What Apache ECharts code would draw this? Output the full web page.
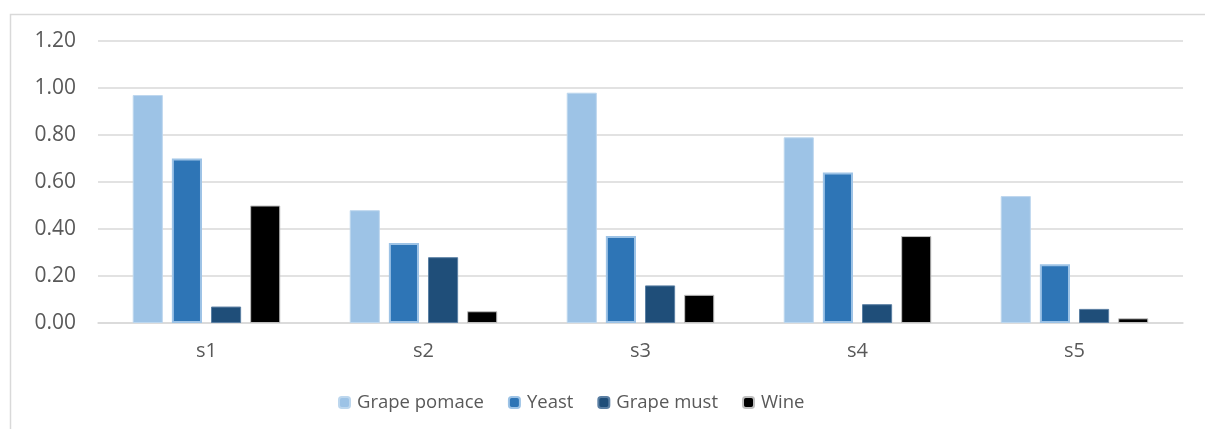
<!DOCTYPE html>
<html>
<head>
<meta charset="utf-8">
<script src="https://cdn.jsdelivr.net/npm/echarts@6/dist/echarts.min.js"></script>
<style>
html,body{margin:0;padding:0;background:#fff;}
#chart{width:1205px;height:429px;}
</style>
</head>
<body>
<div id="chart"></div>
<script>
const categories = ['s1','s2','s3','s4','s5'];
const grapePomace = [0.97, 0.48, 0.98, 0.79, 0.54];
const yeast = [0.70, 0.34, 0.37, 0.64, 0.25];
const grapeMust = [0.07, 0.28, 0.16, 0.08, 0.06];
const wine = [0.50, 0.05, 0.12, 0.37, 0.02];
const yTicks = { min: 0, max: 1.2, interval: 0.2 };

const chart = echarts.init(document.getElementById('chart'));
const font = '"Open Sans", "Noto Sans", sans-serif';
chart.setOption({
  animation: false,
  backgroundColor: '#ffffff',
  graphic: [{
    type: 'rect',
    shape: { x: 10.5, y: 14.5, width: 1220, height: 440 },
    style: { fill: 'none', stroke: '#d9d9d9', lineWidth: 1.5 },
    silent: true
  }],
  grid: { left: 98, right: 22, top: 41, bottom: 106 },
  legend: {
    top: 388,
    left: 333,
    itemWidth: 11,
    itemHeight: 11,
    itemGap: 24,
    textStyle: { fontFamily: font, fontSize: 18.5, color: '#595959', padding: [0, 0, 0, 2] },
    data: ['Grape pomace', 'Yeast', 'Grape must', 'Wine']
  },
  xAxis: {
    type: 'category',
    data: categories,
    axisLine: { show: true, lineStyle: { color: '#d9d9d9', width: 1.5 } },
    axisTick: { show: false },
    axisLabel: { fontFamily: font, fontSize: 20, color: '#595959', margin: 18 }
  },
  yAxis: {
    type: 'value',
    min: yTicks.min, max: yTicks.max, interval: yTicks.interval,
    axisLine: { show: false },
    axisTick: { show: false },
    splitLine: { lineStyle: { color: '#d9d9d9', width: 1.5 } },
    axisLabel: { fontFamily: font, fontSize: 21, color: '#595959', margin: 22,
      formatter: v => v.toFixed(2) }
  },
  series: [
    { name: 'Grape pomace', type: 'bar', data: grapePomace, barGap: '30%', barCategoryGap: '32%',
      itemStyle: { color: '#9DC3E6', borderColor: '#bdd7ee', borderWidth: 1 } },
    { name: 'Yeast', type: 'bar', data: yeast,
      itemStyle: { color: '#2E75B6', borderColor: '#9DC3E6', borderWidth: 2 } },
    { name: 'Grape must', type: 'bar', data: grapeMust,
      itemStyle: { color: '#1F4E79', borderColor: '#5b7fa3', borderWidth: 1 } },
    { name: 'Wine', type: 'bar', data: wine,
      itemStyle: { color: '#000000', borderColor: '#bfbfbf', borderWidth: 1 } }
  ]
});
</script>
</body>
</html>
